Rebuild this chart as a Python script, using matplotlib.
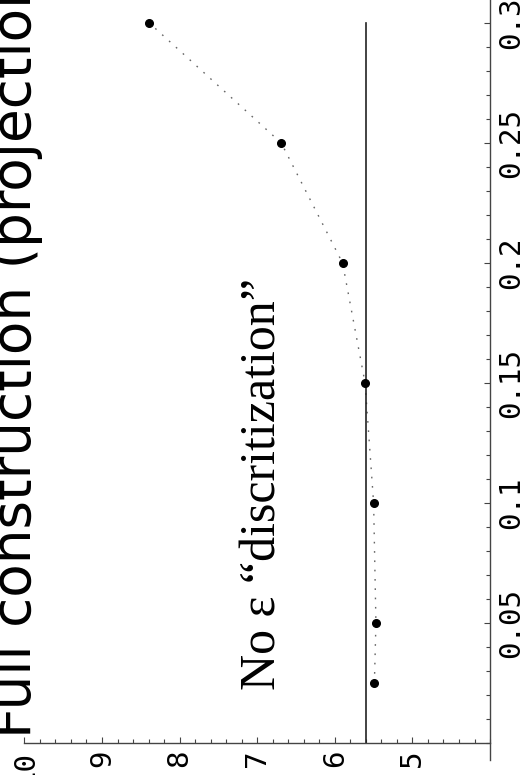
import matplotlib
matplotlib.use("Agg")
import matplotlib.pyplot as plt
import numpy as np
from matplotlib.ticker import MultipleLocator, FixedLocator, FixedFormatter

# data (original orientation: x = epsilon, y = value)
eps = [0.025, 0.05, 0.1, 0.15, 0.2, 0.25, 0.3]
vals = [5.49, 5.47, 5.50, 5.61, 5.90, 6.69, 8.39]
ref_value = 5.6
ref_eps = [0.0, 0.3]
eps_ticks = [0.05, 0.1, 0.15, 0.2, 0.25, 0.3]
eps_ticklabels = ["0.05", "0.1", "0.15", "0.2", "0.25", "0.3"]
val_ticks = [5, 6, 7, 8, 9, 10]
val_ticklabels = ["5", "6", "7", "8", "9", "10"]
title = "Full construction (projection)"
note = "No \u03b5 \u201cdiscritization\u201d"

fig = plt.figure(figsize=(5.22, 7.75), dpi=100)
ax = fig.add_axes([0, 0, 1, 1])
ax.set_facecolor("white")

# chart is rotated: horizontal = value (inverted), vertical = epsilon
ax.set_xlim(10.314, 3.588)
ax.set_ylim(-0.01333, 0.30958)

ax.plot(vals, eps, color="#666666", linestyle=(0, (1.2, 5.5)), linewidth=1.0, zorder=2)
ax.plot(vals, eps, linestyle="none", marker="o", markersize=5.5, color="black", zorder=3)
ax.plot([ref_value, ref_value], ref_eps, color="#222222", linewidth=1.2, zorder=2)

for s in ["top", "left"]:
    ax.spines[s].set_visible(False)
ax.spines["right"].set_position(("data", 4))
ax.spines["right"].set_bounds(-0.007, 0.31)
ax.spines["bottom"].set_position(("data", 0))
ax.spines["bottom"].set_bounds(4, 10)
for s in ["right", "bottom"]:
    ax.spines[s].set_color("#444444")
    ax.spines[s].set_linewidth(1.0)

ax.yaxis.set_ticks_position("right")
ax.yaxis.set_major_locator(FixedLocator(eps_ticks))
ax.yaxis.set_major_formatter(FixedFormatter(eps_ticklabels))
ax.yaxis.set_minor_locator(FixedLocator([i * 0.01 for i in range(0, 32)]))
ax.xaxis.set_ticks_position("bottom")
ax.xaxis.set_major_locator(FixedLocator(val_ticks))
ax.xaxis.set_major_formatter(FixedFormatter(val_ticklabels))
ax.xaxis.set_minor_locator(FixedLocator([4 + i * 0.2 for i in range(0, 31)]))

ax.tick_params(which="major", direction="in", length=4.5, width=0.8, color="#444444",
               labelsize=21, pad=5, labelrotation=90)
ax.tick_params(which="minor", direction="in", length=2.8, width=0.8, color="#444444")
for lab in ax.get_xticklabels() + ax.get_yticklabels():
    lab.set_family("DejaVu Sans Mono")
    lab.set_rotation(90)
for lab in ax.get_yticklabels():
    lab.set_va("center")
    lab.set_ha("left")

ax.text(6.76, 0.022, note, rotation=90, rotation_mode="anchor", ha="left", va="baseline",
        fontsize=36, family="Liberation Serif", color="black")

fig.text(31 / 522, 37 / 775, title, rotation=90, rotation_mode="anchor", ha="left",
         va="baseline", fontsize=39.5, family="DejaVu Sans", color="black")

fig.savefig("out.png", dpi=100, facecolor="white")
